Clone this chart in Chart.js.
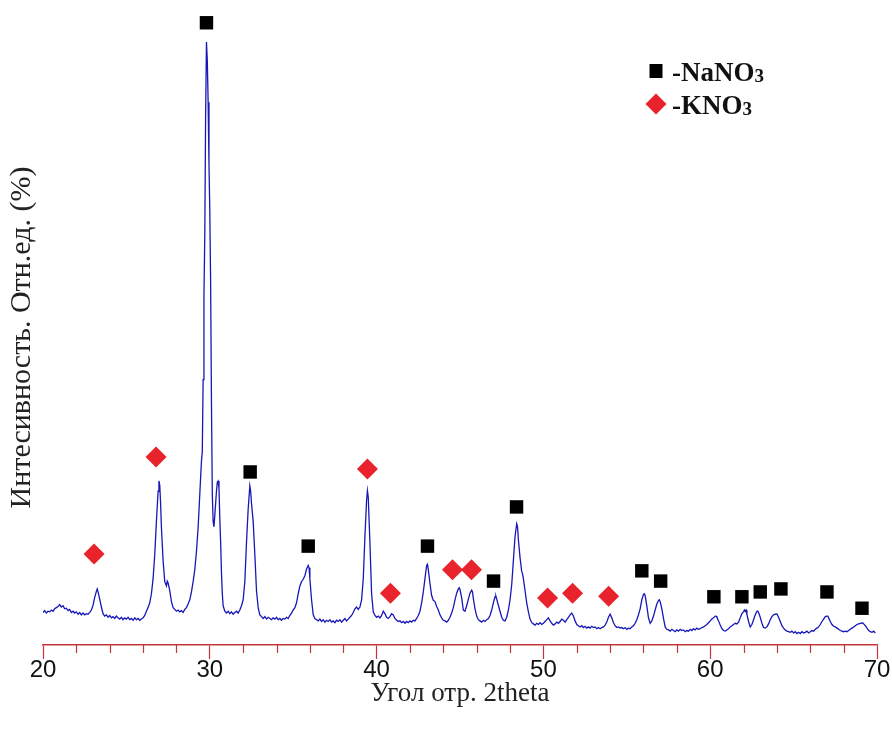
<!DOCTYPE html>
<html>
<head>
<meta charset="utf-8">
<script src="https://cdn.jsdelivr.net/npm/chart.js@4.4.1/dist/chart.umd.min.js"></script>
<style>
    html, body { margin: 0; padding: 0; background: #fff; }
    #wrap { width: 892px; height: 729px; position: relative; }
</style>
</head>
<body>
<div id="wrap"><canvas id="xrdChart"></canvas></div>
<script>
// XRD scan: [2theta, intensity (%)]
const scan = [
    [20.0, 5.4], [20.1, 5.7], [20.2, 5.3], [20.3, 5.6], [20.4, 5.5], [20.5, 5.8], [20.6, 5.6], [20.7, 6.0],
    [20.8, 6.2], [20.9, 6.4], [21.0, 6.7], [21.1, 6.3], [21.2, 6.5], [21.3, 6.0], [21.4, 6.1], [21.5, 5.7],
    [21.6, 5.9], [21.7, 5.4], [21.8, 5.6], [21.9, 5.3], [22.0, 5.5], [22.1, 5.1], [22.2, 5.4], [22.3, 5.0],
    [22.4, 5.3], [22.5, 5.0], [22.6, 5.2], [22.7, 5.1], [22.8, 5.4], [22.9, 5.8], [23.0, 6.6], [23.1, 7.9],
    [23.2, 8.9], [23.25, 9.3], [23.3, 8.8], [23.4, 7.6], [23.5, 6.3], [23.6, 5.2], [23.7, 4.8], [23.8, 5.0],
    [23.9, 4.6], [24.0, 4.9], [24.1, 4.5], [24.2, 4.7], [24.3, 4.4], [24.4, 4.8], [24.5, 4.5], [24.6, 4.3],
    [24.7, 4.6], [24.8, 4.2], [24.9, 4.5], [25.0, 4.3], [25.1, 4.6], [25.2, 4.2], [25.3, 4.4], [25.4, 4.1],
    [25.5, 4.5], [25.6, 4.2], [25.7, 4.4], [25.8, 4.1], [25.9, 4.3], [26.0, 4.5], [26.1, 4.9], [26.2, 5.6],
    [26.3, 6.2], [26.4, 7.0], [26.5, 8.5], [26.6, 11.0], [26.7, 15.0], [26.8, 20.5], [26.9, 25.5], [26.95, 27.2],
    [27.0, 26.5], [27.05, 23.5], [27.1, 19.5], [27.2, 14.0], [27.3, 10.5], [27.4, 9.8], [27.45, 10.6], [27.5, 10.3],
    [27.6, 9.0], [27.7, 7.2], [27.8, 6.2], [27.9, 5.9], [28.0, 5.6], [28.1, 5.8], [28.2, 5.5], [28.3, 5.7],
    [28.4, 5.4], [28.5, 5.9], [28.6, 6.2], [28.7, 6.8], [28.8, 7.5], [28.9, 8.8], [29.0, 10.5], [29.1, 12.5],
    [29.2, 15.5], [29.3, 19.5], [29.4, 25.0], [29.5, 30.5], [29.55, 32.0], [29.6, 44.0], [29.65, 58.0], [29.7, 68.0],
    [29.75, 88.0], [29.8, 100], [29.85, 97.0], [29.9, 90.0], [29.95, 80.0], [30.0, 72.0], [30.05, 60.0], [30.1, 40.0],
    [30.15, 25.0], [30.2, 20.5], [30.25, 19.6], [30.3, 21.5], [30.4, 25.5], [30.45, 27.0], [30.5, 27.2], [30.55, 26.0],
    [30.6, 21.0], [30.65, 17.0], [30.7, 12.0], [30.75, 8.5], [30.8, 6.5], [30.9, 5.6], [31.0, 5.3], [31.1, 5.6],
    [31.2, 5.2], [31.3, 5.5], [31.4, 5.1], [31.5, 5.4], [31.6, 5.6], [31.7, 5.3], [31.8, 5.8], [31.9, 6.5],
    [32.0, 7.5], [32.1, 10.5], [32.2, 17.0], [32.3, 22.5], [32.4, 26.4], [32.45, 25.5], [32.5, 23.5], [32.6, 20.5],
    [32.7, 15.0], [32.8, 9.0], [32.9, 6.2], [33.0, 5.0], [33.1, 4.7], [33.2, 4.4], [33.3, 4.7], [33.4, 4.3],
    [33.5, 4.6], [33.6, 4.4], [33.7, 4.2], [33.8, 4.5], [33.9, 4.3], [34.0, 4.6], [34.1, 4.2], [34.2, 4.4],
    [34.3, 4.1], [34.4, 4.4], [34.5, 4.3], [34.6, 4.6], [34.7, 4.4], [34.8, 4.9], [34.9, 5.3], [35.0, 5.8],
    [35.1, 6.2], [35.2, 7.0], [35.3, 8.5], [35.4, 9.8], [35.5, 10.5], [35.6, 10.9], [35.7, 11.5], [35.8, 12.6],
    [35.9, 13.2], [35.95, 12.8], [36.0, 11.0], [36.1, 7.5], [36.2, 5.0], [36.3, 4.4], [36.4, 4.2], [36.5, 4.0],
    [36.6, 4.3], [36.7, 3.9], [36.8, 4.2], [36.9, 3.8], [37.0, 4.1], [37.1, 3.9], [37.2, 4.2], [37.3, 3.8],
    [37.4, 4.0], [37.5, 3.7], [37.6, 4.1], [37.7, 3.9], [37.8, 4.2], [37.9, 3.8], [38.0, 4.1], [38.1, 4.4],
    [38.2, 4.0], [38.3, 4.3], [38.4, 4.6], [38.5, 4.9], [38.6, 5.4], [38.7, 6.0], [38.8, 6.3], [38.9, 5.9],
    [39.0, 6.3], [39.1, 7.5], [39.2, 11.0], [39.3, 18.0], [39.4, 24.0], [39.45, 25.6], [39.5, 24.5], [39.6, 17.0],
    [39.7, 8.5], [39.8, 5.5], [39.9, 4.9], [40.0, 4.6], [40.1, 4.8], [40.2, 4.5], [40.3, 4.9], [40.4, 5.6],
    [40.5, 5.2], [40.6, 4.6], [40.7, 4.4], [40.8, 4.7], [40.9, 5.2], [41.0, 5.0], [41.1, 4.4], [41.2, 4.1],
    [41.3, 3.9], [41.4, 4.0], [41.5, 3.7], [41.6, 3.9], [41.7, 3.6], [41.8, 3.9], [41.9, 3.7], [42.0, 4.0],
    [42.1, 3.8], [42.2, 4.1], [42.3, 4.0], [42.4, 4.4], [42.5, 4.9], [42.6, 5.6], [42.7, 7.0], [42.8, 8.8],
    [42.9, 11.0], [43.0, 13.2], [43.05, 13.4], [43.1, 12.5], [43.2, 10.2], [43.3, 8.2], [43.4, 7.4], [43.5, 7.2],
    [43.6, 6.4], [43.7, 5.8], [43.8, 5.0], [43.9, 4.5], [44.0, 4.1], [44.1, 4.0], [44.2, 3.8], [44.3, 4.1],
    [44.4, 4.6], [44.5, 5.3], [44.6, 6.2], [44.7, 7.5], [44.8, 8.6], [44.9, 9.3], [44.95, 9.5], [45.0, 9.2],
    [45.1, 7.8], [45.2, 5.8], [45.3, 5.6], [45.4, 6.5], [45.5, 7.6], [45.6, 8.6], [45.7, 9.1], [45.75, 8.8],
    [45.8, 7.7], [45.9, 6.0], [46.0, 4.8], [46.1, 4.2], [46.2, 4.0], [46.3, 3.8], [46.4, 4.1], [46.5, 3.9],
    [46.6, 4.2], [46.7, 4.4], [46.8, 4.9], [46.9, 5.8], [47.0, 7.0], [47.1, 8.0], [47.15, 8.1], [47.2, 7.6],
    [47.3, 6.6], [47.4, 5.6], [47.5, 4.6], [47.6, 4.1], [47.7, 4.0], [47.8, 4.6], [47.9, 5.8], [48.0, 7.5],
    [48.1, 10.0], [48.2, 14.0], [48.3, 18.0], [48.4, 20.1], [48.45, 19.6], [48.5, 17.5], [48.6, 14.5], [48.7, 12.2],
    [48.75, 11.8], [48.8, 11.0], [48.9, 9.0], [49.0, 7.0], [49.1, 5.5], [49.2, 4.3], [49.3, 3.7], [49.4, 3.5],
    [49.5, 3.3], [49.6, 3.6], [49.7, 3.4], [49.8, 3.7], [49.9, 3.4], [50.0, 3.6], [50.1, 3.9], [50.2, 4.2],
    [50.3, 4.5], [50.4, 4.0], [50.5, 3.6], [50.6, 3.3], [50.7, 3.5], [50.8, 3.8], [50.9, 3.6], [51.0, 3.9],
    [51.1, 4.3], [51.2, 4.1], [51.3, 3.8], [51.4, 4.2], [51.5, 4.6], [51.6, 5.0], [51.7, 5.3], [51.8, 4.8],
    [51.9, 4.0], [52.0, 3.4], [52.1, 3.2], [52.2, 3.0], [52.3, 3.2], [52.4, 2.9], [52.5, 3.1], [52.6, 2.8],
    [52.7, 3.0], [52.8, 2.8], [52.9, 3.1], [53.0, 2.9], [53.1, 3.0], [53.2, 2.7], [53.3, 2.9], [53.4, 2.7],
    [53.5, 2.9], [53.6, 3.0], [53.7, 3.3], [53.8, 3.8], [53.9, 4.6], [54.0, 5.1], [54.1, 4.5], [54.2, 3.7],
    [54.3, 3.2], [54.4, 2.9], [54.5, 3.0], [54.6, 2.8], [54.7, 2.9], [54.8, 2.7], [54.9, 2.9], [55.0, 2.6],
    [55.1, 2.8], [55.2, 2.7], [55.3, 3.0], [55.4, 3.2], [55.5, 3.6], [55.6, 4.2], [55.7, 5.0], [55.8, 6.0],
    [55.9, 7.5], [56.0, 8.4], [56.05, 8.5], [56.1, 8.2], [56.2, 6.5], [56.3, 4.5], [56.4, 3.6], [56.5, 4.0],
    [56.6, 4.8], [56.7, 5.8], [56.8, 6.8], [56.9, 7.4], [56.95, 7.5], [57.0, 7.2], [57.1, 6.0], [57.2, 4.4],
    [57.3, 3.0], [57.4, 2.6], [57.5, 2.5], [57.6, 2.3], [57.7, 2.6], [57.8, 2.4], [57.9, 2.2], [58.0, 2.5],
    [58.1, 2.3], [58.2, 2.6], [58.3, 2.4], [58.4, 2.5], [58.5, 2.2], [58.6, 2.4], [58.7, 2.3], [58.8, 2.6],
    [58.9, 2.4], [59.0, 2.7], [59.1, 2.5], [59.2, 2.8], [59.3, 2.6], [59.4, 2.7], [59.5, 2.9], [59.6, 3.0],
    [59.7, 3.2], [59.8, 3.4], [59.9, 3.7], [60.0, 4.0], [60.1, 4.3], [60.2, 4.5], [60.3, 4.8], [60.35, 4.8],
    [60.4, 4.6], [60.5, 4.0], [60.6, 3.3], [60.7, 2.7], [60.8, 2.4], [60.9, 2.3], [61.0, 2.5], [61.1, 2.7],
    [61.2, 3.0], [61.3, 3.2], [61.4, 3.4], [61.5, 3.6], [61.6, 3.5], [61.7, 3.8], [61.8, 4.5], [61.9, 5.2],
    [62.0, 5.5], [62.05, 5.8], [62.1, 5.6], [62.15, 5.8], [62.2, 5.1], [62.3, 3.9], [62.4, 3.0], [62.5, 3.4],
    [62.6, 4.2], [62.7, 5.0], [62.8, 5.6], [62.85, 5.65], [62.9, 5.4], [63.0, 4.6], [63.1, 3.6], [63.2, 2.9],
    [63.3, 2.8], [63.4, 3.0], [63.5, 3.5], [63.6, 4.2], [63.7, 4.7], [63.8, 5.0], [63.9, 5.1], [64.0, 5.15],
    [64.1, 4.6], [64.2, 3.9], [64.3, 3.2], [64.4, 2.8], [64.5, 2.5], [64.6, 2.3], [64.7, 2.2], [64.8, 2.1],
    [64.9, 2.3], [65.0, 2.0], [65.1, 2.2], [65.2, 1.9], [65.3, 2.1], [65.4, 1.9], [65.5, 2.2], [65.6, 2.0],
    [65.7, 2.1], [65.8, 2.3], [65.9, 2.0], [66.0, 2.2], [66.1, 2.4], [66.2, 2.3], [66.3, 2.6], [66.4, 2.8],
    [66.5, 3.0], [66.6, 3.4], [66.7, 3.9], [66.8, 4.3], [66.9, 4.7], [67.0, 4.8], [67.05, 4.8], [67.1, 4.5],
    [67.2, 3.9], [67.3, 3.4], [67.4, 3.1], [67.5, 3.0], [67.6, 2.8], [67.7, 2.6], [67.8, 2.4], [67.9, 2.3],
    [68.0, 2.2], [68.1, 2.3], [68.2, 2.2], [68.3, 2.4], [68.4, 2.6], [68.5, 2.8], [68.6, 3.0], [68.7, 3.2],
    [68.8, 3.4], [68.9, 3.5], [69.0, 3.6], [69.1, 3.65], [69.15, 3.65], [69.2, 3.5], [69.3, 3.2], [69.4, 2.8],
    [69.5, 2.4], [69.6, 2.2], [69.7, 2.1], [69.8, 2.3], [69.9, 2.0]
];

// phase markers (position, height of the marker)
const naNO3Angle  = [29.8, 32.42, 35.9, 43.05, 47.01, 48.39, 55.9, 57.03, 60.22, 61.9, 63.0, 64.24, 67.0, 69.1];
const naNO3Height = [103.2, 28.7, 16.4, 16.4, 10.6, 22.9, 12.3, 10.6, 8.0, 8.0, 8.8, 9.3, 8.8, 6.1];
const kNO3Angle   = [23.06, 26.78, 39.45, 40.83, 44.55, 45.69, 50.25, 51.75, 53.91];
const kNO3Height  = [15.1, 31.2, 29.2, 8.6, 12.5, 12.5, 7.8, 8.6, 8.1];

const xMin = 20, xMax = 70, xStep = 2;
const yMin = 0, yMax = 102;

const AXIS_RED = '#c8343a';
const LINE_BLUE = '#1717b8';
const MARK_RED = '#e8232b';
const SERIF = '"Liberation Serif", "Times New Roman", serif';

const toPoints = (xs, ys) => xs.map((x, i) => ({ x: x, y: ys[i] }));

// minor ticks are shorter than the major ones
const minorTicks = {
    id: 'minorTicks',
    afterDraw(chart) {
        const sc = chart.scales.x;
        const ctx = chart.ctx;
        ctx.save();
        ctx.strokeStyle = AXIS_RED;
        ctx.lineWidth = 1.2;
        sc.ticks.forEach(t => {
            if (t.value % 10 === 0) return;
            const px = Math.round(sc.getPixelForValue(t.value)) + 0.5;
            ctx.beginPath();
            ctx.moveTo(px, sc.top);
            ctx.lineTo(px, sc.top + 8);
            ctx.stroke();
        });
        ctx.restore();
    }
};

// legend in the upper right corner with subscript 3
const phaseLegend = {
    id: 'phaseLegend',
    afterDraw(chart) {
        const ctx = chart.ctx;
        ctx.save();
        const rows = [
            { label: '-NaNO', y: 71, draw: (x, y) => { ctx.fillStyle = '#000'; ctx.fillRect(x - 6.5, y - 7, 13, 14); } },
            { label: '-KNO',  y: 104, draw: (x, y) => {
                ctx.fillStyle = MARK_RED;
                ctx.beginPath();
                ctx.moveTo(x, y - 10.5); ctx.lineTo(x + 10.5, y); ctx.lineTo(x, y + 10.5); ctx.lineTo(x - 10.5, y);
                ctx.closePath(); ctx.fill();
            } }
        ];
        rows.forEach(r => {
            r.draw(656, r.y);
            ctx.fillStyle = '#111';
            ctx.textBaseline = 'alphabetic';
            ctx.font = 'bold 27px ' + SERIF;
            ctx.fillText(r.label, 672, r.y + 10);
            const w = ctx.measureText(r.label).width;
            ctx.font = 'bold 19px ' + SERIF;
            ctx.fillText('3', 672 + w, r.y + 11);
        });
        ctx.restore();
    }
};

new Chart(document.getElementById('xrdChart').getContext('2d'), {
    type: 'scatter',
    data: {
        datasets: [
            {
                label: 'scan',
                data: toPoints(scan.map(p => p[0]), scan.map(p => p[1])),
                showLine: true,
                borderColor: LINE_BLUE,
                borderWidth: 1.3,
                pointRadius: 0,
                tension: 0,
                order: 3
            },
            {
                label: 'NaNO3',
                data: toPoints(naNO3Angle, naNO3Height),
                pointStyle: 'rect',
                pointRadius: 9.5,
                backgroundColor: '#000',
                borderWidth: 0,
                clip: false,
                order: 1
            },
            {
                label: 'KNO3',
                data: toPoints(kNO3Angle, kNO3Height),
                pointStyle: 'rectRot',
                pointRadius: 10.5,
                backgroundColor: MARK_RED,
                borderWidth: 0,
                clip: false,
                order: 2
            }
        ]
    },
    options: {
        responsive: true,
        maintainAspectRatio: false,
        animation: false,
        layout: { padding: { top: 30, left: 4, right: 15, bottom: 22 } },
        plugins: {
            legend: { display: false },
            tooltip: { enabled: false }
        },
        scales: {
            x: {
                type: 'linear',
                min: xMin,
                max: xMax,
                border: { display: true, color: AXIS_RED, width: 1.5 },
                grid: {
                    display: true,
                    drawOnChartArea: false,
                    drawTicks: true,
                    tickLength: 14,
                    tickWidth: 1.2,
                    tickColor: c => (c.tick && c.tick.value % 10 === 0) ? AXIS_RED : 'rgba(0,0,0,0)'
                },
                ticks: {
                    stepSize: xStep,
                    autoSkip: false,
                    maxRotation: 0,
                    padding: -1,
                    color: '#111',
                    font: { family: '"Liberation Sans", Arial, sans-serif', size: 24, lineHeight: 1 },
                    callback: v => (v % 10 === 0 ? v : '')
                },
                title: {
                    display: true,
                    text: 'Угол отр. 2theta',
                    color: '#222',
                    padding: { top: -1, bottom: 0 },
                    font: { family: SERIF, size: 27, lineHeight: 1 }
                }
            },
            y: {
                type: 'linear',
                min: yMin,
                max: yMax,
                border: { display: false },
                grid: { display: false, drawTicks: false },
                ticks: { display: false },
                title: {
                    display: true,
                    text: 'Интесивность. Отн.ед. (%)',
                    color: '#222',
                    padding: { top: 0, bottom: 3 },
                    font: { family: SERIF, size: 30 }
                }
            }
        }
    },
    plugins: [minorTicks, phaseLegend]
});
</script>
</body>
</html>
